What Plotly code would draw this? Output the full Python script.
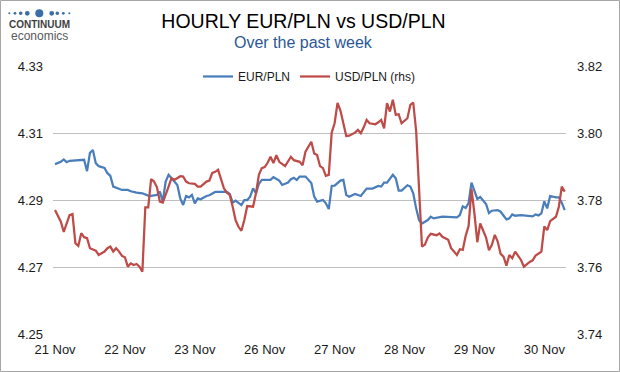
import plotly.graph_objects as go

# ---- data ----
# hour index since 21 Nov 00:00 (trading hours only, 24 per labelled day)
eur_hours = [0, 2, 3, 4, 5, 7, 10, 11, 12, 13, 14, 15, 17, 18, 19, 20, 21, 23, 25, 26,
             28, 30, 32, 33, 35, 36, 37, 38, 39, 40, 42, 43, 44, 45, 46, 47, 48, 49, 50, 52,
             53, 55, 59, 60, 61, 62, 64, 65, 66, 67, 68, 69, 70, 71, 74, 75, 77, 78, 80, 81,
             82, 83, 84, 86, 87, 88, 89, 90, 92, 93, 94, 95, 96, 98, 99, 100, 101, 103, 105, 107,
             109, 111, 112, 113, 114, 116, 117, 118, 119, 121, 122, 123, 124, 125, 126, 128, 129, 130, 133, 136,
             138, 139, 140, 141, 142, 143, 144, 145, 146, 148, 149, 150, 152, 153, 155, 156, 157, 158, 160, 163,
             164, 165, 166, 167, 168, 169, 170, 172, 173, 174, 175]
eur_pln = [4.3007, 4.3014, 4.3021, 4.3013, 4.3017, 4.3018, 4.3020, 4.2986, 4.3041, 4.3049, 4.3010, 4.3001, 4.2996, 4.2980, 4.2972, 4.2940, 4.2936, 4.2930, 4.2930, 4.2926,
           4.2922, 4.2920, 4.2913, 4.2912, 4.2915, 4.2925, 4.2896, 4.2955, 4.2975, 4.2965, 4.2945, 4.2905, 4.2885, 4.2912, 4.2908, 4.2915, 4.2890, 4.2905, 4.2902, 4.2912,
           4.2914, 4.2924, 4.2924, 4.2918, 4.2892, 4.2898, 4.2885, 4.2900, 4.2900, 4.2910, 4.2935, 4.2920, 4.2948, 4.2960, 4.2960, 4.2968, 4.2958, 4.2945, 4.2952, 4.2962,
           4.2966, 4.2960, 4.2970, 4.2970, 4.2960, 4.2951, 4.2910, 4.2895, 4.2900, 4.2890, 4.2873, 4.2942, 4.2943, 4.2958, 4.2960, 4.2915, 4.2910, 4.2918, 4.2912, 4.2934,
           4.2934, 4.2942, 4.2940, 4.2952, 4.2952, 4.2975, 4.2965, 4.2928, 4.2928, 4.2944, 4.2940, 4.2920, 4.2875, 4.2840, 4.2830, 4.2840, 4.2850, 4.2845, 4.2850, 4.2850,
           4.2848, 4.2855, 4.2881, 4.2876, 4.2891, 4.2952, 4.2930, 4.2903, 4.2909, 4.2888, 4.2861, 4.2868, 4.2870, 4.2865, 4.2842, 4.2845, 4.2857, 4.2853, 4.2855, 4.2852,
           4.2851, 4.2857, 4.2854, 4.2860, 4.2896, 4.2875, 4.2912, 4.2908, 4.2908, 4.2892, 4.2870]

usd_hours = [0, 1, 2, 3, 5, 6, 7, 8, 9, 10, 11, 12, 13, 14, 15, 17, 18, 19, 20, 21,
             22, 23, 24, 25, 26, 27, 28, 29, 30, 31, 32, 33, 34, 35, 36, 37, 39, 40, 41, 43,
             44, 45, 46, 48, 49, 50, 52, 53, 54, 55, 56, 57, 58, 59, 60, 61, 62, 63, 64, 65,
             66, 68, 69, 70, 71, 72, 73, 74, 75, 76, 77, 79, 80, 81, 82, 83, 84, 85, 86, 88,
             89, 90, 91, 92, 93, 94, 95, 96, 97, 98, 100, 101, 103, 104, 105, 106, 107, 108, 110, 111,
             112, 113, 114, 115, 116, 117, 118, 119, 121, 122, 123, 124, 125, 126, 127, 128, 129, 131, 132, 133,
             135, 136, 138, 139, 140, 141, 142, 143, 144, 145, 146, 148, 149, 150, 151, 152, 153, 154, 155, 156,
             157, 158, 160, 161, 163, 164, 165, 167, 168, 169, 170, 172, 173, 174, 175]
usd_pln = [3.7770, 3.7752, 3.7735, 3.7705, 3.7755, 3.7758, 3.7671, 3.7663, 3.7701, 3.7689, 3.7686, 3.7656, 3.7653, 3.7649, 3.7636, 3.7646, 3.7656, 3.7661, 3.7646, 3.7656,
           3.7646, 3.7633, 3.7629, 3.7601, 3.7611, 3.7606, 3.7609, 3.7601, 3.7586, 3.7778, 3.7778, 3.7862, 3.7855, 3.7838, 3.7795, 3.7792, 3.7840, 3.7865, 3.7860, 3.7871,
           3.7870, 3.7855, 3.7850, 3.7848, 3.7840, 3.7840, 3.7855, 3.7858, 3.7881, 3.7884, 3.7890, 3.7862, 3.7835, 3.7822, 3.7815, 3.7780, 3.7740, 3.7720, 3.7708, 3.7740,
           3.7782, 3.7780, 3.7820, 3.7875, 3.7895, 3.7898, 3.7911, 3.7929, 3.7910, 3.7934, 3.7914, 3.7901, 3.7914, 3.7929, 3.7919, 3.7917, 3.7914, 3.7904, 3.7944, 3.7974,
           3.7939, 3.7934, 3.7901, 3.7895, 3.7872, 3.7875, 3.8001, 3.8029, 3.8090, 3.8067, 3.7991, 3.7992, 3.8001, 3.8009, 3.7999, 3.8017, 3.8039, 3.8029, 3.8026, 3.8032,
           3.8039, 3.8014, 3.8089, 3.8064, 3.8099, 3.8054, 3.8056, 3.8029, 3.8044, 3.8084, 3.8091, 3.8006, 3.7830, 3.7661, 3.7667, 3.7688, 3.7699, 3.7695, 3.7700, 3.7690,
           3.7681, 3.7656, 3.7636, 3.7653, 3.7651, 3.7693, 3.7722, 3.7833, 3.7760, 3.7674, 3.7730, 3.7688, 3.7650, 3.7666, 3.7696, 3.7676, 3.7639, 3.7631, 3.7604, 3.7636,
           3.7626, 3.7646, 3.7621, 3.7601, 3.7615, 3.7620, 3.7634, 3.7646, 3.7721, 3.7710, 3.7737, 3.7750, 3.7780, 3.7840, 3.7825]

day_labels = ["21 Nov", "22 Nov", "23 Nov", "26 Nov", "27 Nov", "28 Nov", "29 Nov", "30 Nov"]
day_ticks = [0, 24, 48, 72, 96, 120, 144, 168]
left_ticks = [4.25, 4.27, 4.29, 4.31, 4.33]
right_ticks = [3.74, 3.76, 3.78, 3.80, 3.82]

BLUE = "#4A7EBB"
RED = "#BE4B48"
FONT = "Liberation Sans"

# plot-area geometry (pixels) used to place decorations in paper coordinates
W, H = 620, 372
ML, MR, MT, MB = 53, 54, 66, 38
PW, PH = W - ML - MR, H - MT - MB


def px(x):
    return (x - ML) / PW


def py(y):
    return (H - MB - y) / PH


fig = go.Figure()
fig.add_trace(go.Scatter(x=eur_hours, y=eur_pln, name="EUR/PLN", mode="lines",
                         line=dict(color=BLUE, width=2.25), yaxis="y"))
fig.add_trace(go.Scatter(x=usd_hours, y=usd_pln, name="USD/PLN (rhs)", mode="lines",
                         line=dict(color=RED, width=2.25), yaxis="y2"))

shapes = [dict(type="rect", xref="paper", yref="paper",
               x0=px(0.5), x1=px(619.5), y0=py(371.5), y1=py(0.5),
               line=dict(color="#A6A6A6", width=1), fillcolor="rgba(0,0,0,0)", layer="above")]
# logo dots
dots = [(9.3, 1.0), (15.0, 1.4), (20.7, 1.8), (27.3, 2.4), (39.3, 4.0),
        (51.7, 2.4), (57.3, 1.8), (63.3, 1.4), (69.3, 1.0)]
for cx, r in dots:
    shapes.append(dict(type="circle", xref="paper", yref="paper",
                       x0=px(cx - r), x1=px(cx + r), y0=py(13.3 + r), y1=py(13.3 - r),
                       fillcolor="#3A6EA8", line=dict(width=0)))

annotations = [
    dict(text="Over the past week", x=px(303.5), y=py(42.5), xref="paper", yref="paper",
         xanchor="center", yanchor="middle", showarrow=False,
         font=dict(family=FONT, size=16, color="#2B5797")),
    dict(text="<b>CONTINUUM</b>", x=px(39.5), y=py(25), xref="paper", yref="paper",
         xanchor="center", yanchor="middle", showarrow=False, borderpad=0,
         font=dict(family=FONT, size=10, color="#3F3F3F")),
    dict(text="economics", x=px(39.5), y=py(36), xref="paper", yref="paper",
         xanchor="center", yanchor="middle", showarrow=False, borderpad=0,
         font=dict(family=FONT, size=12, color="#595959")),
]

fig.update_layout(
    width=W, height=H,
    margin=dict(l=ML, r=MR, t=MT, b=MB),
    paper_bgcolor="white", plot_bgcolor="white",
    font=dict(family=FONT, size=13, color="#1A1A1A"),
    title=dict(text="HOURLY EUR/PLN vs USD/PLN", x=303.5 / W, y=1 - 21 / H,
               xanchor="center", yanchor="middle",
               font=dict(family=FONT, size=19.5, color="#000000")),
    showlegend=True,
    legend=dict(orientation="h", x=0.5, xanchor="center", y=1.015, yanchor="top",
                bgcolor="rgba(0,0,0,0)", font=dict(family=FONT, size=12, color="#1A1A1A"),
                itemwidth=30, tracegroupgap=0),
    xaxis=dict(range=[-0.69, 175.45], tickmode="array", tickvals=day_ticks, ticktext=day_labels,
               showgrid=False, zeroline=False, showline=False, ticks="",
               ticklabelstandoff=6, tickfont=dict(size=13)),
    yaxis=dict(range=[4.25, 4.33], tickmode="array", tickvals=left_ticks, tickformat=".2f",
               showgrid=True, gridcolor="#C0C0C0", gridwidth=1, zeroline=False, showline=False,
               ticks="", ticklabelstandoff=9),
    yaxis2=dict(range=[3.74, 3.82], tickmode="array", tickvals=right_ticks, tickformat=".2f",
                overlaying="y", side="right", showgrid=False, zeroline=False, showline=False,
                ticks="", ticklabelstandoff=10),
    shapes=shapes,
    annotations=annotations,
)

fig.write_html("out.html", config={"displayModeBar": False},
               post_script="document.body.style.margin='0px';")
